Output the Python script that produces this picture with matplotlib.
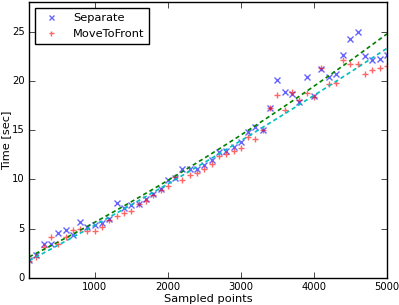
import numpy as np
import matplotlib
matplotlib.use('Agg')
import matplotlib.pyplot as plt

plt.style.use('classic')

# sampled points (x) and timings in seconds
points = np.arange(100, 5001, 100)
separate = [1.8, 2.3, 3.46, 3.46, 4.6, 4.87, 4.35, 5.73, 5.22, 5.4,
            5.6, 5.95, 7.58, 7.08, 7.38, 7.55, 7.98, 8.49, 8.99, 9.9,
            10.16, 11.1, 11.1, 11.1, 11.5, 12.0, 12.78, 12.9, 13.25, 13.8,
            14.86, 15.36, 15.03, 17.27, 20.06, 18.88, 18.65, 17.88, 20.39, 18.45,
            21.23, 20.35, 20.72, 22.64, 24.25, 24.99, 22.5, 22.07, 22.23, 22.67]
move_to_front = [1.7, 2.11, 3.12, 4.17, 3.5, 4.17, 4.85, 5.0, 4.77, 4.8,
                 5.2, 5.9, 6.24, 6.6, 6.8, 7.48, 7.8, 8.39, 8.92, 9.32,
                 10.26, 9.9, 10.4, 10.7, 11.1, 11.57, 12.41, 12.58, 12.85, 13.18,
                 14.26, 14.12, 15.03, 17.27, 18.61, 17.04, 18.88, 18.05, 18.81, 18.38,
                 21.3, 19.65, 19.82, 22.07, 21.67, 21.73, 20.72, 21.06, 21.3, 21.5]

fig = plt.figure(figsize=(3.99, 3.05), dpi=100, facecolor='white')
ax = fig.add_axes([29/399, 27/305, 358/399, 276/305])

ax.plot(points, separate, 'bx', alpha=0.6, markersize=4.5, mew=1, label='Separate')
ax.plot(points, move_to_front, 'r+', alpha=0.6, markersize=4.5, mew=1, label='MoveToFront')

# quadratic fits
p1 = np.polyfit(points, separate, 2)
p2 = np.polyfit(points, move_to_front, 2)
ax.plot(points, np.polyval(p1, points), 'g--', linewidth=1.2, dashes=(3, 2.2))
ax.plot(points, np.polyval(p2, points), 'c--', linewidth=1.2, dashes=(3, 2.2))

ax.set_xlim(100, 5000)
ax.set_ylim(0, 28)
ax.set_xticks([1000, 2000, 3000, 4000, 5000])
ax.set_yticks([0, 5, 10, 15, 20, 25])
ax.tick_params(labelsize=7.2, length=4, direction='in', pad=3)
ax.set_xlabel('Sampled points', fontsize=8.2, labelpad=1)
ax.set_ylabel('Time [sec]', fontsize=8.2, labelpad=1)
ax.legend(loc='upper left', numpoints=1, fontsize=8.2, handlelength=2,
          handletextpad=0.9, borderpad=0.45, labelspacing=0.55, markerscale=0.8)

plt.savefig('out.png', dpi=100, facecolor='white')
